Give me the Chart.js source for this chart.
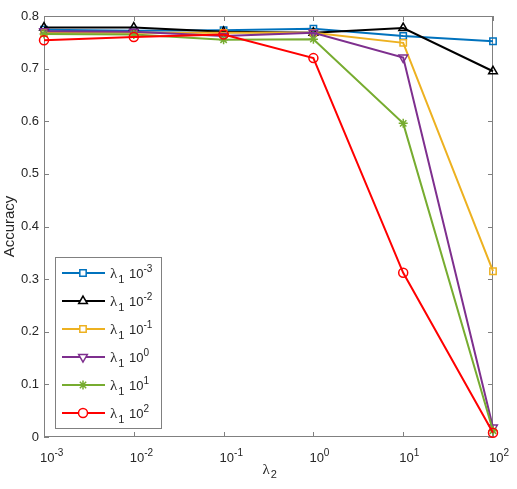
<!DOCTYPE html>
<html>
<head>
<meta charset="utf-8">
<script src="https://cdn.jsdelivr.net/npm/chart.js@4"></script>
<style>
  html, body { margin: 0; padding: 0; background: #fff; }
  #wrap { width: 517px; height: 489px; }
</style>
</head>
<body>
<div id="wrap"><canvas id="c"></canvas></div>
<script>
// lambda_2 values on the x axis and their exponents
var lambda2 = [1e-3, 1e-2, 1e-1, 1, 10, 100];
var xTickExp = ['-3', '-2', '-1', '0', '1', '2'];

// one series per lambda_1
var legendExp = ['-3', '-2', '-1', '0', '1', '2'];
var accL1em3 = [0.774, 0.772, 0.773, 0.776, 0.762, 0.752];
var accL1em2 = [0.778, 0.778, 0.770, 0.768, 0.777, 0.695];
var accL1em1 = [0.768, 0.768, 0.768, 0.768, 0.749, 0.315];
var accL1e0  = [0.771, 0.770, 0.762, 0.768, 0.721, 0.018];
var accL1e1  = [0.766, 0.765, 0.755, 0.756, 0.596, 0.012];
var accL1e2  = [0.754, 0.760, 0.765, 0.720, 0.312, 0.008];

var yTicks = [0, 0.1, 0.2, 0.3, 0.4, 0.5, 0.6, 0.7, 0.8];

var series = [accL1em3, accL1em2, accL1em1, accL1e0, accL1e1, accL1e2];
var colors = ['#0072BD', '#000000', '#EDB120', '#7E2F8E', '#77AC30', '#FF0000'];
var styles = ['rect', 'triangle', 'rect', 'triangle', 'star', 'circle'];
var rotations = [0, 0, 0, 180, 0, 0];

var AXIS = '#808080';
var TEXT = '#262626';
var SANS = '"Liberation Sans", Arial, sans-serif';
var SERIF = '"Liberation Serif", "Times New Roman", serif';

function pts(vals) {
    return vals.map(function(v, i) { return { x: lambda2[i], y: v }; });
}

var datasets = series.map(function(vals, i) {
    return {
        label: 'lambda1 10^' + legendExp[i],
        data: pts(vals),
        borderColor: colors[i],
        backgroundColor: colors[i],
        borderWidth: 2,
        pointStyle: styles[i],
        pointRotation: rotations[i],
        pointRadius: styles[i] === 'triangle' ? 5 : 4.5,
        pointBorderWidth: 1.5,
        pointBackgroundColor: 'rgba(0,0,0,0)',
        pointBorderColor: colors[i],
        tension: 0,
        clip: false,
        order: 6 - i
    };
});

// superscript / subscript text helper
function drawPow(ctx, x, y, base, exp, baseFont, expFont, shift) {
    ctx.font = baseFont;
    ctx.fillText(base, x, y);
    var w = ctx.measureText(base).width;
    ctx.font = expFont;
    ctx.fillText(exp, x + w, y + shift);
    return w + ctx.measureText(exp).width;
}

var framePlugin = {
    id: 'frame',
    beforeDatasetsDraw: function(chart) {
        var ctx = chart.ctx, a = chart.chartArea;
        var xs = chart.scales.x, ys = chart.scales.y;
        ctx.save();
        ctx.strokeStyle = AXIS;
        ctx.lineWidth = 1;
        ctx.strokeRect(a.left + 0.5, a.top + 0.5, a.right - a.left - 1, a.bottom - a.top - 1);
        ctx.beginPath();
        lambda2.forEach(function(v) {
            var px = Math.round(xs.getPixelForValue(v)) + 0.5;
            ctx.moveTo(px, a.bottom); ctx.lineTo(px, a.bottom - 5);
            ctx.moveTo(px, a.top); ctx.lineTo(px, a.top + 5);
        });
        yTicks.forEach(function(v) {
            var py = Math.round(ys.getPixelForValue(v)) + 0.5;
            ctx.moveTo(a.left, py); ctx.lineTo(a.left + 5, py);
            ctx.moveTo(a.right, py); ctx.lineTo(a.right - 5, py);
        });
        ctx.stroke();

        // x tick labels 10^n
        ctx.fillStyle = TEXT;
        ctx.textBaseline = 'alphabetic';
        ctx.textAlign = 'left';
        lambda2.forEach(function(v, i) {
            var px = xs.getPixelForValue(v);
            drawPow(ctx, px - 4, a.bottom + 25, '10', xTickExp[i],
                '13px ' + SANS, '10px ' + SANS, -6);
        });

        // x axis title lambda_2
        ctx.font = '15px ' + SERIF;
        var cx = (a.left + a.right) / 2 - 6;
        ctx.fillText('\u03bb', cx, a.bottom + 37);
        var lw = ctx.measureText('\u03bb').width;
        ctx.font = '11px ' + SANS;
        ctx.fillText('2', cx + lw + 1, a.bottom + 41);
        ctx.restore();
    },
    afterDraw: function(chart) {
        var ctx = chart.ctx, a = chart.chartArea;
        var bx = a.left + 11, by = 257, bw = 106, bh = 171;
        ctx.save();
        ctx.fillStyle = '#fff';
        ctx.fillRect(bx, by, bw, bh);
        ctx.strokeStyle = AXIS;
        ctx.lineWidth = 1;
        ctx.strokeRect(bx + 0.5, by + 0.5, bw, bh);
        for (var i = 0; i < series.length; i++) {
            var ry = by + 16 + i * 28;
            ctx.strokeStyle = colors[i];
            ctx.lineWidth = 2;
            ctx.beginPath();
            ctx.moveTo(bx + 7, ry); ctx.lineTo(bx + 50, ry);
            ctx.stroke();
            ctx.lineWidth = 1.5;
            ctx.fillStyle = '#fff';
            Chart.helpers.drawPoint(ctx, {
                pointStyle: styles[i],
                rotation: rotations[i],
                radius: styles[i] === 'triangle' ? 5 : 4.5,
                borderWidth: 1.5
            }, bx + 28, ry);
            ctx.fillStyle = TEXT;
            ctx.textAlign = 'left';
            ctx.textBaseline = 'alphabetic';
            ctx.font = '15px ' + SERIF;
            var tx = bx + 55;
            ctx.fillText('\u03bb', tx, ry + 5);
            var lw = ctx.measureText('\u03bb').width;
            ctx.font = '11px ' + SANS;
            ctx.fillText('1', tx + lw + 1, ry + 10);
            drawPow(ctx, tx + 19, ry + 5, '10', legendExp[i],
                '13px ' + SANS, '10px ' + SANS, -6);
        }
        ctx.restore();
    }
};

new Chart(document.getElementById('c'), {
    type: 'line',
    data: { datasets: datasets },
    plugins: [framePlugin],
    options: {
        responsive: true,
        maintainAspectRatio: false,
        animation: false,
        events: [],
        layout: { padding: { top: 16, right: 24, left: 0, bottom: 0 } },
        plugins: {
            legend: { display: false },
            tooltip: { enabled: false }
        },
        scales: {
            x: {
                type: 'logarithmic',
                min: 1e-3,
                max: 1e2,
                ticks: { display: false },
                grid: { display: false },
                border: { display: false },
                afterFit: function(s) { s.height = 52; }
            },
            y: {
                min: 0,
                max: 0.8,
                afterBuildTicks: function(s) {
                    s.ticks = yTicks.map(function(v) { return { value: v }; });
                },
                ticks: {
                    color: TEXT,
                    font: { family: SANS, size: 13 },
                    padding: 0,
                    callback: function(v) { return v === 0 ? '0' : v.toFixed(1); }
                },
                grid: { display: false, tickLength: 5 },
                border: { display: false },
                title: {
                    display: true,
                    text: 'Accuracy',
                    color: TEXT,
                    font: { family: SANS, size: 15 },
                    padding: { top: 1, bottom: 0 }
                },
                afterFit: function(s) { s.width = 44; }
            }
        }
    }
});
</script>
</body>
</html>
